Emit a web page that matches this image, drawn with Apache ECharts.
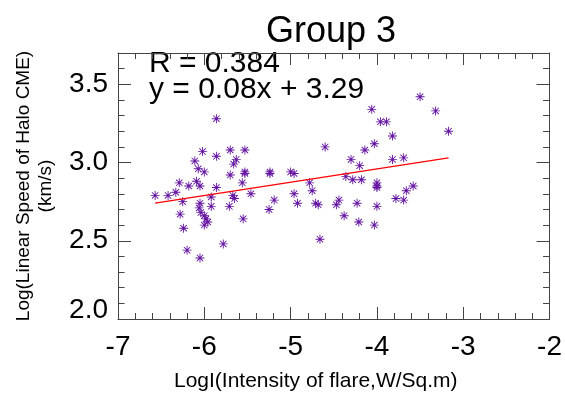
<!DOCTYPE html>
<html>
<head>
<meta charset="utf-8">
<script src="https://cdn.jsdelivr.net/npm/echarts@6/dist/echarts.min.js"></script>
<style>
html,body{margin:0;padding:0;background:#fff;}
#chart{width:565px;height:400px;}
</style>
</head>
<body>
<div id="chart"></div>
<script>
var chartTitle = 'Group 3';
var xAxisName = 'LogI(Intensity of flare,W/Sq.m)';
var yAxisName = 'Log(Linear Speed of Halo CME)\n(km/s)';
var statsLines = ['R = 0.384', 'y = 0.08x + 3.29'];

var xRange = [-7, -2];
var yRange = [2.0, 3.7];

var flareLogI = [-6.57,-6.42,-6.33,-6.29,-6.25,-6.28,-6.24,-6.20,-6.18,-6.11,
  -6.09,-6.07,-6.05,-6.02,-6.00,-6.05,-6.06,-6.04,-6.00,-5.98,
  -5.96,-6.00,-6.05,-5.92,-5.92,-5.86,-5.86,-5.86,-5.78,-5.70,
  -5.70,-5.71,-5.67,-5.65,-5.66,-5.63,-5.56,-5.55,-5.53,-5.53,
  -5.53,-5.46,-5.24,-5.24,-5.25,-5.19,-5.00,-4.96,-4.96,-4.92,
  -4.78,-4.75,-4.71,-4.68,-4.66,-4.60,-4.47,-4.44,-4.38,-4.36,
  -4.30,-4.28,-4.23,-4.21,-4.20,-4.18,-4.14,-4.06,-4.03,-4.03,
  -4.00,-4.00,-4.00,-4.00,-3.96,-3.89,-3.82,-3.82,-3.78,-3.69,
  -3.69,-3.66,-3.58,-3.50,-3.32,-3.17];
var cmeLogSpeed = [2.79,2.79,2.81,2.87,2.75,2.67,2.58,2.44,2.85,3.01,
  2.88,2.96,2.85,3.07,2.94,2.74,2.71,2.68,2.66,2.64,
  2.62,2.60,2.39,2.72,2.78,3.28,3.04,2.84,2.48,3.08,
  2.92,2.72,2.79,2.77,2.99,3.02,2.87,2.64,3.08,2.94,
  2.93,2.80,2.94,2.93,2.70,2.76,2.94,2.93,2.80,2.74,
  2.87,2.82,2.74,2.73,2.51,3.10,2.73,2.76,2.66,2.91,
  3.02,2.89,2.74,2.62,2.98,2.89,3.08,3.34,3.12,2.60,
  2.87,2.85,2.84,2.72,3.26,3.26,3.17,3.02,2.77,3.03,
  2.76,2.82,2.85,3.42,3.33,3.20];

var fitX = [-6.57, -3.17];
var fitY = [2.74, 3.03];

var FONT = 'Liberation Sans, Arial, Helvetica, sans-serif';
var AXIS_COLOR = '#444';
var MARK_COLOR = '#6414a0';

var asterisk = 'path://M-1,-10L1,-10L1,10L-1,10Z M-10,-1L10,-1L10,1L-10,1Z ' +
  'M-6.36,-7.78L7.78,6.36L6.36,7.78L-7.78,-6.36Z M6.36,-7.78L7.78,-6.36L-6.36,7.78L-7.78,6.36Z';

function axisBase(pos, range, interval, tickLen, showLabels, extra) {
  var a = {
    type: 'value',
    position: pos,
    min: range[0],
    max: range[1],
    interval: interval,
    splitLine: { show: false },
    axisLine: { show: true, onZero: false, lineStyle: { color: AXIS_COLOR, width: 1 } },
    axisTick: { show: true, inside: true, length: tickLen, lineStyle: { color: AXIS_COLOR, width: 1 } },
    axisLabel: { show: showLabels, color: '#000', fontFamily: FONT, fontSize: 28 }
  };
  if (extra) { for (var k in extra) a[k] = extra[k]; }
  return a;
}

var xMain = axisBase('bottom', xRange, 1, 12, true, {
  minorTick: { show: true, splitNumber: 5, length: 6, lineStyle: { color: AXIS_COLOR, width: 1 } },
  name: xAxisName,
  nameLocation: 'middle',
  nameGap: 52,
  nameTextStyle: { color: '#000', fontFamily: FONT, fontSize: 21, padding: [0, 36, 0, 0] }
});
xMain.axisLabel.margin = 14;
var xTop = axisBase('top', xRange, 1, 12, false, {
  minorTick: { show: true, splitNumber: 5, length: 6, lineStyle: { color: AXIS_COLOR, width: 1 } }
});

var yMain = axisBase('left', yRange, 0.5, 13, true, {
  name: yAxisName,
  nameLocation: 'middle',
  nameRotate: 90,
  nameGap: 61,
  nameTextStyle: { color: '#000', fontFamily: FONT, fontSize: 19, lineHeight: 22 }
});
yMain.axisLabel.margin = 10;
yMain.axisLabel.showMaxLabel = false;
yMain.axisLabel.formatter = function (v) {
  var s = v.toFixed(1);
  return v === yRange[0] ? '{lo|' + s + '}' : s;
};
yMain.axisLabel.rich = { lo: { fontFamily: FONT, fontSize: 28, color: '#000', padding: [0, 0, 18, 0] } };
var yMinorLeft = axisBase('left', yRange, 0.1, 6.5, false);
yMinorLeft.axisLine.show = false;
var yRight = axisBase('right', yRange, 0.5, 13, false);
var yMinorRight = axisBase('right', yRange, 0.1, 6.5, false);
yMinorRight.axisLine.show = false;

var points = flareLogI.map(function (x, i) { return [x, cmeLogSpeed[i]]; });
var fitLine = fitX.map(function (x, i) { return [x, fitY[i]]; });

var chart = echarts.init(document.getElementById('chart'), null, { renderer: 'canvas' });
chart.setOption({
  backgroundColor: '#fff',
  animation: false,
  title: {
    text: chartTitle,
    left: 261,
    top: 9,
    textStyle: { color: '#000', fontFamily: FONT, fontSize: 36, fontWeight: 'normal' }
  },
  grid: { left: 118, right: 15, top: 53, bottom: 81, containLabel: false },
  xAxis: [xMain, xTop],
  yAxis: [yMain, yMinorLeft, yRight, yMinorRight],
  graphic: [
    { type: 'text', left: 149, top: 49, style: { text: statsLines[0], fill: '#000', font: '30px ' + FONT } },
    { type: 'text', left: 149, top: 75, style: { text: statsLines[1], fill: '#000', font: '30px ' + FONT } }
  ],
  series: [
    {
      type: 'scatter',
      xAxisIndex: 0, yAxisIndex: 0,
      data: points,
      symbol: asterisk,
      symbolSize: 9,
      itemStyle: { color: MARK_COLOR, opacity: 1 },
      z: 3
    },
    {
      type: 'line',
      xAxisIndex: 0, yAxisIndex: 0,
      data: fitLine,
      showSymbol: false,
      symbol: 'none',
      lineStyle: { color: '#ff0000', width: 1.2 },
      z: 4
    }
  ]
});
</script>
</body>
</html>
